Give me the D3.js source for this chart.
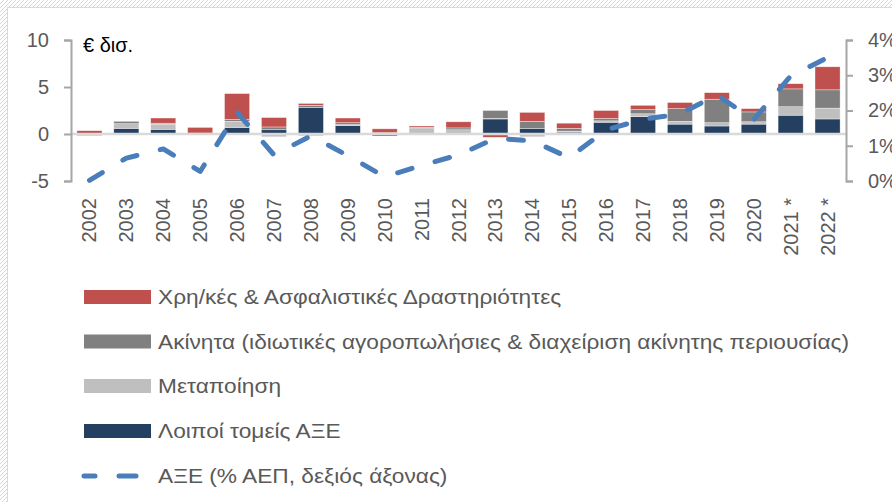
<!DOCTYPE html>
<html><head><meta charset="utf-8">
<script src="https://cdn.jsdelivr.net/npm/d3@7"></script>
<style>html,body{margin:0;padding:0;background:#fff;}svg{display:block;}</style>
</head><body>
<svg id="chart" width="892" height="502"></svg>
<script>
// ---- data ----
const years = ["2002","2003","2004","2005","2006","2007","2008","2009","2010","2011","2012","2013","2014","2015","2016","2017","2018","2019","2020","2021 *","2022 *"];
// € bn, stacked
const otherSectors = [0.05,0.6,0.5,-0.05,0.7,0.45,2.8,0.9,-0.2,0.0,0.0,1.6,0.6,0.2,1.25,1.85,1.05,0.85,1.05,2.0,1.6];
const manufacturing = [-0.2,0.5,0.55,0.1,0.65,-0.3,-0.2,0.1,0.1,0.65,0.45,0.05,-0.3,0.1,0.15,0.3,0.3,0.35,0.25,0.9,1.15];
const realEstate = [0.0,0.25,0.1,0.0,0.2,0.3,0.25,0.2,0.05,0.05,0.2,0.85,0.75,0.3,0.25,0.45,1.35,2.5,1.05,1.9,1.95];
const finance = [0.3,-0.1,0.55,0.6,2.75,1.0,0.2,0.5,0.4,0.15,0.65,-0.35,0.95,0.55,0.85,0.45,0.65,0.7,0.35,0.55,2.45];
// % of GDP (right axis)
const fdiPct = [0.02,0.65,0.91,0.27,1.95,0.74,1.28,0.72,0.12,0.44,0.74,1.21,1.14,0.66,1.45,1.75,1.90,2.44,1.74,2.98,3.50];
const leftTicks = [-5,0,5,10];
const rightTicks = [0,1,2,3,4];
const seriesNames = ["Λοιποί τομείς ΑΞΕ","Μεταποίηση","Ακίνητα (ιδιωτικές αγοροπωλήσιες & διαχείριση ακίνητης περιουσίας)","Χρη/κές & Ασφαλιστικές Δραστηριότητες"];
const lineName = "ΑΞΕ (% ΑΕΠ, δεξιός άξονας)";
const unitLabel = "€ δισ.";

const colors = {"Λοιποί τομείς ΑΞΕ":"#243f60","Μεταποίηση":"#bfbfbf","Ακίνητα (ιδιωτικές αγοροπωλήσιες & διαχείριση ακίνητης περιουσίας)":"#808080","Χρη/κές & Ασφαλιστικές Δραστηριότητες":"#c0504d"};
const lineColor = "#4a7ebb";
const font = "'Liberation Sans', Arial, sans-serif";
const textGray = "#595959";

const svg = d3.select("#chart");

// hatched frame
const defs = svg.append("defs");
const pat = defs.append("pattern").attr("id","hatch").attr("width",4).attr("height",4)
  .attr("patternUnits","userSpaceOnUse");
pat.append("rect").attr("width",4).attr("height",4).attr("fill","#fff");
pat.append("path").attr("d","M-1,1 l2,-2 M0,4 l4,-4 M3,5 l2,-2").attr("stroke","#d6d6d6").attr("stroke-width",1);
svg.append("rect").attr("x",0).attr("y",0).attr("width",892).attr("height",7).attr("fill","url(#hatch)");
svg.append("rect").attr("x",0).attr("y",0).attr("width",7).attr("height",502).attr("fill","url(#hatch)");
svg.append("line").attr("x1",7.5).attr("x2",7.5).attr("y1",7).attr("y2",502).attr("stroke","#d9d9d9");
svg.append("line").attr("x1",7).attr("x2",892).attr("y1",7.5).attr("y2",7.5).attr("stroke","#d9d9d9");

// scales
const x = d3.scaleBand().domain(years).range([71,846]).paddingInner(0.32).paddingOuter(0.16);
const yL = d3.scaleLinear().domain([-5,10]).range([181,40]);
const yR = d3.scaleLinear().domain([0,0.04]).range([181,40]);

// stacked data
const rows = years.map((y,i)=>({year:y,
  [seriesNames[0]]:otherSectors[i],[seriesNames[1]]:manufacturing[i],
  [seriesNames[2]]:realEstate[i],[seriesNames[3]]:finance[i]}));
const stacked = d3.stack().keys(seriesNames).offset(d3.stackOffsetDiverging)(rows);

svg.append("g").selectAll("g").data(stacked).join("g")
  .attr("fill",d=>colors[d.key])
  .selectAll("rect").data(d=>d).join("rect")
  .attr("x",d=>x(d.data.year))
  .attr("width",x.bandwidth())
  .attr("y",d=>yL(Math.max(d[0],d[1])))
  .attr("height",d=>Math.abs(yL(d[0])-yL(d[1])))
  .attr("stroke","#ffffff").attr("stroke-width",0.6).attr("stroke-opacity",0.6);

// zero line
svg.append("line").attr("x1",71).attr("x2",846).attr("y1",yL(0)).attr("y2",yL(0))
  .attr("stroke","#d9d9d9").attr("stroke-width",2.5);

// axes
const axL = svg.append("g").attr("transform","translate(71,0)")
  .call(d3.axisLeft(yL).tickValues(leftTicks).tickSize(7).tickPadding(15).tickFormat(d3.format("d")));
const axR = svg.append("g").attr("transform","translate(846,0)")
  .call(d3.axisRight(yR).tickValues(rightTicks.map(v=>v/100)).tickSize(7).tickPadding(15).tickFormat(d3.format(".0%")));
[axL,axR].forEach(a=>{
  a.selectAll("path,line").attr("stroke","#a6a6a6").attr("stroke-width",2);
  a.selectAll("text").attr("font-family",font).attr("font-size",20).attr("fill",textGray);
});
axL.selectAll("text").text(d=>d<0?"-"+Math.abs(d):d);

// unit label
svg.append("text").attr("x",83).attr("y",52).attr("font-family",font).attr("font-size",20)
  .attr("fill","#000").text(unitLabel);

// line
const line = d3.line().x((d,i)=>x(years[i])+x.bandwidth()/2).y(d=>yR(d/100));
svg.append("path").datum(fdiPct).attr("d",line).attr("fill","none")
  .attr("stroke",lineColor).attr("stroke-width",5).attr("stroke-dasharray","15,24")
  .attr("stroke-linecap","round").attr("stroke-linejoin","round");

// year labels
svg.append("g").selectAll("text").data(years).join("text")
  .attr("transform",d=>`translate(${x(d)+x.bandwidth()/2},198) rotate(-90)`)
  .attr("text-anchor","end").attr("dy","0.35em")
  .attr("font-family",font).attr("font-size",20).attr("fill",textGray)
  .text(d=>d);

// legend
const legendItems = [seriesNames[3],seriesNames[2],seriesNames[1],seriesNames[0],lineName];
const lg = svg.append("g");
const rowY = [297,341.5,386,431,476];
const texts = [];
legendItems.forEach((name,i)=>{
  const cy = rowY[i];
  if(i<4){
    lg.append("rect").attr("x",84).attr("y",cy-7).attr("width",67).attr("height",14).attr("fill",colors[name]);
  } else {
    lg.append("line").attr("x1",84).attr("x2",150).attr("y1",cy).attr("y2",cy)
      .attr("stroke",lineColor).attr("stroke-width",5).attr("stroke-linecap","round")
      .attr("stroke-dasharray","11,24,17,40");
  }
  texts.push(lg.append("text").attr("x",158).attr("y",cy).attr("dy","0.35em")
    .attr("font-family",font).attr("font-size",21).attr("fill",textGray).text(name));
});
// fit width of the longest label to the reference
const ratio = 691 / texts[1].node().getComputedTextLength();
texts.forEach(t=>{
  const w = t.node().getComputedTextLength();
  t.attr("textLength",w*ratio).attr("lengthAdjust","spacingAndGlyphs");
});
</script>
</body></html>
